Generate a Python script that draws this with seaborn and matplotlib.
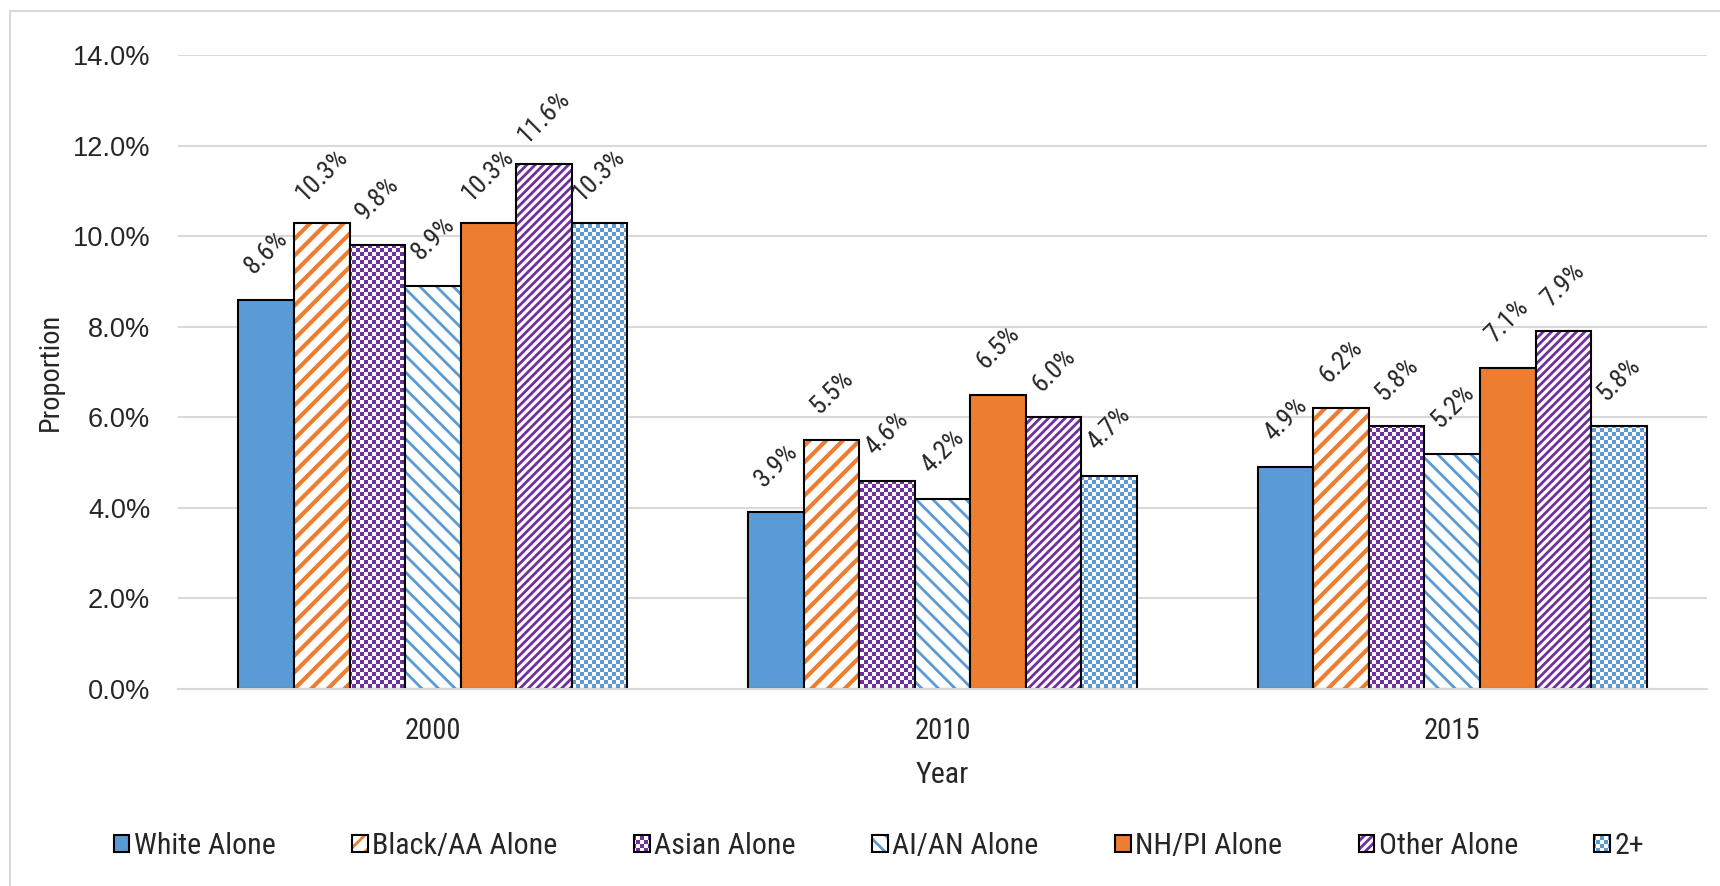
import numpy as np
import pandas as pd
import seaborn as sns
import matplotlib.pyplot as plt
import matplotlib.hatch as mhatch
from matplotlib.colors import to_rgba
from matplotlib.patches import Rectangle
from matplotlib.path import Path
from matplotlib.ticker import MultipleLocator, PercentFormatter

# data (percent)
years = ['2000', '2010', '2015']
groups = ['White Alone', 'Black/AA Alone', 'Asian Alone', 'AI/AN Alone',
          'NH/PI Alone', 'Other Alone', '2+']
white = [8.6, 3.9, 4.9]
black = [10.3, 5.5, 6.2]
asian = [9.8, 4.6, 5.8]
aian = [8.9, 4.2, 5.2]
nhpi = [10.3, 6.5, 7.1]
other = [11.6, 6.0, 7.9]
multi = [10.3, 4.7, 5.8]
values = [white, black, asian, aian, nhpi, other, multi]

BLUE, ORANGE, PURPLE = '#5B9BD5', '#ED7D31', '#7030A0'
# face colour, hatch colour, hatch ('*' = checkerboard, see below)
styles = [(BLUE, None, ''), ('white', ORANGE, '////'), ('white', PURPLE, '*'),
          ('white', BLUE, '\\\\\\\\'), (ORANGE, None, ''),
          ('white', PURPLE, '////////'), ('white', BLUE, '*')]

NARROW = ['Roboto Condensed', 'Archivo Narrow', 'DejaVu Sans']
HATCH_LW = 1.0
CHECK_N = 50  # squares per hatch tile side


# Excel-like small checkerboard, used in place of the star hatch
class Checker(mhatch.HatchPatternBase):
    def __init__(self, hatch, density):
        self.num_squares = CHECK_N * CHECK_N // 2 if '*' in hatch else 0
        self.num_vertices = self.num_squares * 5

    def set_vertices_and_codes(self, vertices, codes):
        step = 1.0 / CHECK_N
        half = max(step - HATCH_LW / 72, 0.001) / 2  # the stroke adds the rest
        ii, jj = np.meshgrid(np.arange(CHECK_N), np.arange(CHECK_N))
        keep = (ii + jj) % 2 == 0
        centers = np.stack([(ii[keep] + 0.5) * step, (jj[keep] + 0.5) * step], axis=1)
        corners = np.array([[-1, -1], [1, -1], [1, 1], [-1, 1], [-1, -1]]) * half
        vertices[:] = (centers[:, None, :] + corners[None, :, :]).reshape(-1, 2)
        codes[:] = np.tile([Path.MOVETO, Path.LINETO, Path.LINETO, Path.LINETO,
                            Path.CLOSEPOLY], self.num_squares)


mhatch._hatch_types[:] = [t for t in mhatch._hatch_types if t is not mhatch.Stars] + [Checker]

sns.set_theme(style='white')
plt.rcParams['font.family'] = NARROW
plt.rcParams['hatch.linewidth'] = HATCH_LW

df = pd.DataFrame({
    'Year': np.tile(years, len(groups)),
    'Group': np.repeat(groups, len(years)),
    'Proportion': np.concatenate(values),
})

fig = plt.figure(figsize=(8.6, 4.43), dpi=200)
ax = fig.add_axes([0.1035, 0.2223, 0.889, 0.7156])
sns.barplot(data=df, x='Year', y='Proportion', hue='Group', order=years,
            hue_order=groups, palette=[s[0] for s in styles], saturation=1,
            width=0.763, errorbar=None, edgecolor='black', linewidth=0.75,
            legend=False, ax=ax)

for cont, (face, hc, hatch), vals in zip(ax.containers, styles, values):
    for bar, v in zip(cont, vals):
        if hatch:
            bar.set_hatch(hatch)
            bar._hatch_color = to_rgba(hc)
            if hatch == '////' and hasattr(bar, 'set_hatch_linewidth'):
                bar.set_hatch_linewidth(1.5)
        ax.annotate(f'{v:.1f}%', (bar.get_x() + bar.get_width() / 2, bar.get_height()),
                    xytext=(0, 17), textcoords='offset points', rotation=45,
                    rotation_mode='anchor', ha='center', va='center', fontsize=9.5)

ax.set_xlim(-0.5, 2.5)
ax.set_ylim(0, 14)
ax.yaxis.set_major_locator(MultipleLocator(2))
ax.yaxis.set_major_formatter(PercentFormatter(decimals=1))
ax.grid(axis='y', color='#D9D9D9', lw=0.75)
ax.set_axisbelow(True)
sns.despine(ax=ax, left=True)
ax.spines['bottom'].set_color('#D9D9D9')
ax.spines['bottom'].set_linewidth(0.75)
ax.tick_params(length=0)
ax.tick_params(axis='x', labelsize=10.3, pad=10)
ax.tick_params(axis='y', labelsize=9.8, pad=10, labelfontfamily='Liberation Sans')
ax.set_xlabel('Year', fontsize=10.8, labelpad=6)
ax.set_ylabel('Proportion', fontsize=10.2, labelpad=3)

handles = [cont.patches[0] for cont in ax.containers]
fig.legend(handles, groups, loc='center', bbox_to_anchor=(0.511, 0.045), ncol=7,
           frameon=False, fontsize=10.8, handlelength=0.52, handleheight=0.52,
           handletextpad=0.15, columnspacing=2.55)

# chart area border (only left and top are visible in the crop)
fig.add_artist(Rectangle((10 / 1720, -0.1), 1.2, 1.1 - 11 / 886,
                         transform=fig.transFigure, fill=False,
                         ec='#D9D9D9', lw=0.75))

fig.savefig('out.png', dpi=200)
